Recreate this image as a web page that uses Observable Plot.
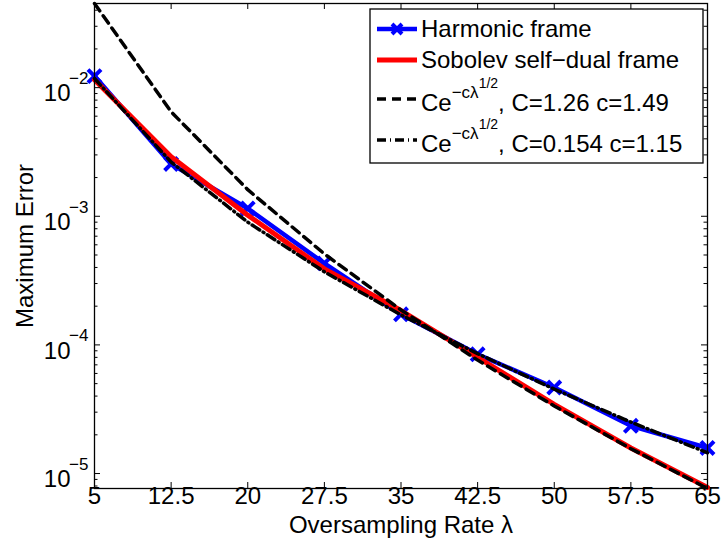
<!DOCTYPE html>
<html><head><meta charset="utf-8">
<script src="https://cdn.jsdelivr.net/npm/d3@7"></script>
<script src="https://cdn.jsdelivr.net/npm/@observablehq/plot@0.6"></script>
<style>body{margin:0;background:#fff}</style>
</head><body><div id="chart"></div>
<script>
const lambda = [5, 12.5, 20, 27.5, 35, 42.5, 50, 57.5, 65];
const harmonic = [0.0123, 0.00255, 0.00115, 0.00043, 0.000173, 0.0000845, 0.0000466, 0.0000235, 0.0000158];
const sobolev = [0.0115, 0.0029, 0.00102, 0.00039, 0.000185, 0.00008, 0.0000345, 0.0000158, 0.0000078];
const fitUpper = [0.0451, 0.00649, 0.00161, 0.00051, 0.000187, 0.0000762, 0.0000335, 0.0000156, 0.00000765];
const fitLower = [0.01177, 0.00264, 0.0009, 0.00037, 0.000171, 0.0000855, 0.0000453, 0.0000251, 0.0000145];
const xTicks = [5, 12.5, 20, 27.5, 35, 42.5, 50, 57.5, 65];
const yTicks = [1e-5, 1e-4, 1e-3, 1e-2];
const yExp = ["−5", "−4", "−3", "−2"];
const yDomain = [7.65e-6, 0.0451];
const xTitle = "Oversampling Rate λ";
const yTitle = "Maximum Error";
const legendNames = ["Harmonic frame", "Sobolev self−dual frame", ", C=1.26 c=1.49", ", C=0.154 c=1.15"];

const FONT = "Liberation Sans, Arial, Helvetica, sans-serif";
const W = 724, H = 550, mL = 94, mR = 17, mT = 3, mB = 62;
const pw = W - mL - mR, ph = H - mT - mB;
const FS = 24;

const minorTicks = [];
for (let e = -6; e <= -2; e++) for (let m = 2; m <= 9; m++) {
  const v = m * Math.pow(10, e);
  if (v >= yDomain[0] && v <= yDomain[1]) minorTicks.push(v);
}
const rows = ys => lambda.map((x, i) => ({x, y: ys[i]}));

const plot = Plot.plot({
  width: W, height: H,
  marginLeft: mL, marginRight: mR, marginTop: mT, marginBottom: mB,
  style: {fontFamily: FONT, background: "white"},
  x: {domain: [5, 65], axis: null},
  y: {type: "log", domain: yDomain, axis: null},
  marks: [
    Plot.line(rows(harmonic), {x: "x", y: "y", stroke: "#0000ff", strokeWidth: 4.5}),
    Plot.dot(rows(harmonic), {x: "x", y: "y", symbol: "times", r: 6, stroke: "#0000ff", strokeWidth: 4}),
    Plot.line(rows(sobolev), {x: "x", y: "y", stroke: "#ff0000", strokeWidth: 5}),
    Plot.line(rows(fitUpper), {x: "x", y: "y", stroke: "black", strokeWidth: 3.5, strokeDasharray: "9,6"}),
    Plot.line(rows(fitLower), {x: "x", y: "y", stroke: "black", strokeWidth: 3.5, strokeDasharray: "9,4,1,4"}),
    Plot.frame({stroke: "black", strokeWidth: 1.3}),
    Plot.tickX(xTicks, {x: d => d, insetTop: ph - 6, stroke: "black"}),
    Plot.tickX(xTicks, {x: d => d, insetBottom: ph - 6, stroke: "black"}),
    Plot.tickY(yTicks, {y: d => d, insetRight: pw - 6, stroke: "black"}),
    Plot.tickY(yTicks, {y: d => d, insetLeft: pw - 6, stroke: "black"}),
    Plot.tickY(minorTicks, {y: d => d, insetRight: pw - 3.5, stroke: "black"}),
    Plot.tickY(minorTicks, {y: d => d, insetLeft: pw - 3.5, stroke: "black"}),
    Plot.text(xTicks, {x: d => d, frameAnchor: "bottom", text: d => String(d), dy: 15, fontSize: FS, fill: "black"}),
    Plot.text(yTicks, {y: d => d, frameAnchor: "left", text: () => "10", textAnchor: "end", dx: -24, dy: 6, fontSize: FS, fill: "black"}),
    Plot.text(yTicks, {y: d => d, frameAnchor: "left", text: (d, i) => yExp[i], textAnchor: "end", dx: -6, dy: -9, fontSize: 17, fill: "black"}),
    Plot.text([xTitle], {frameAnchor: "bottom", text: d => d, dy: 44, fontSize: FS, fill: "black"}),
    Plot.text([yTitle], {frameAnchor: "left", text: d => d, rotate: -90, textAnchor: "middle", dx: -69, fontSize: FS, fill: "black"})
  ]
});

// Legend
const svg = d3.select(plot);
const g = svg.append("g").attr("font-family", FONT).attr("font-size", FS).attr("text-anchor", "start").attr("fill", "black");
g.append("rect").attr("x", 370).attr("y", 9).attr("width", 333).attr("height", 154)
  .attr("fill", "white").attr("stroke", "black").attr("stroke-width", 1.3);
const lx1 = 377, lx2 = 417, tx = 421;
g.append("line").attr("x1", lx1).attr("x2", lx2).attr("y1", 29).attr("y2", 29).attr("stroke", "#0000ff").attr("stroke-width", 4.5);
g.append("path").attr("d", "M-5,-5L5,5M-5,5L5,-5").attr("transform", "translate(397,29)").attr("stroke", "#0000ff").attr("stroke-width", 4);
g.append("line").attr("x1", lx1).attr("x2", lx2).attr("y1", 60).attr("y2", 60).attr("stroke", "#ff0000").attr("stroke-width", 5);
g.append("line").attr("x1", lx1).attr("x2", lx2).attr("y1", 99).attr("y2", 99).attr("stroke", "black").attr("stroke-width", 3.5).attr("stroke-dasharray", "9,6");
g.append("line").attr("x1", lx1).attr("x2", lx2).attr("y1", 140).attr("y2", 140).attr("stroke", "black").attr("stroke-width", 3.5).attr("stroke-dasharray", "9,4,1,4");
g.append("text").attr("x", tx).attr("y", 37).text(legendNames[0]);
g.append("text").attr("x", tx).attr("y", 68).text(legendNames[1]);
function fitLabel(y, rest) {
  const t = g.append("text").attr("x", tx).attr("y", y);
  t.append("tspan").text("Ce");
  t.append("tspan").attr("font-size", 17).attr("dy", -13).text("−cλ");
  t.append("tspan").attr("font-size", 14).attr("dy", -10).text("1/2");
  t.append("tspan").attr("font-size", FS).attr("dy", 23).text(rest);
}
fitLabel(111, legendNames[2]);
fitLabel(152, legendNames[3]);

document.getElementById("chart").appendChild(plot);
</script>
</body></html>
